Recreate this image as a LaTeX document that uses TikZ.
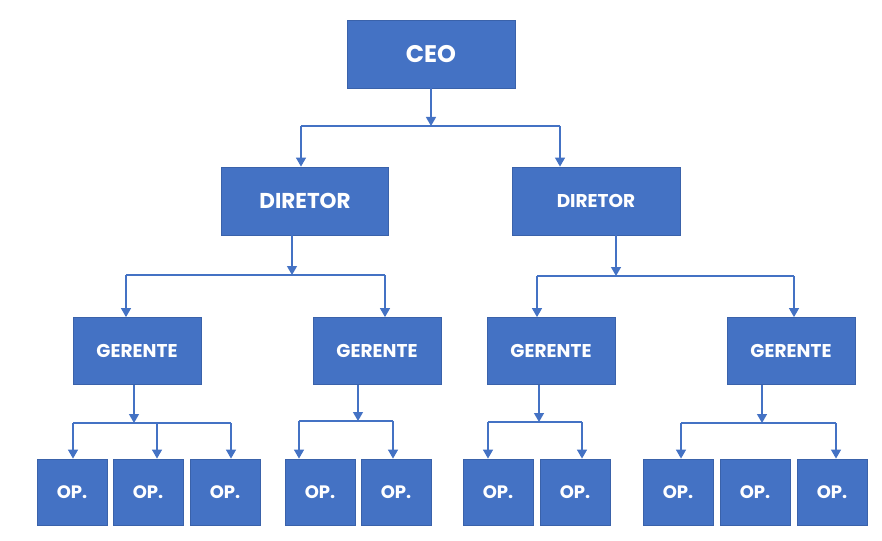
\documentclass[tikz,border=0pt]{standalone}
\usepackage{fontspec}
\setmainfont{Poppins}
\usetikzlibrary{arrows.meta}

\definecolor{azul}{HTML}{4472C4}
\definecolor{azulborda}{HTML}{3A62AA}

\tikzset{
  caixa/.style={draw=azulborda, fill=azul, line width=0.8pt, text=white,
    font=\bfseries, inner sep=0pt, anchor=center},
  linha/.style={draw=azul, line width=1.3pt},
  seta/.style={linha, -{Triangle[width=10pt,length=9pt]}}
}

\begin{document}
\begin{tikzpicture}[x=1pt, y=-1pt]

\useasboundingbox (0,0) rectangle (882,540);

% Nivel 1
\node[caixa, minimum width=168pt, minimum height=68pt, font=\bfseries\fontsize{24}{24}\selectfont] (ceo) at (431,54) {CEO};

% Nivel 2
\node[caixa, minimum width=167pt, minimum height=68pt, font=\bfseries\fontsize{21.5}{21.5}\selectfont] (dirL) at (305,201) {DIRETOR};
\node[caixa, minimum width=168pt, minimum height=68pt, font=\bfseries\fontsize{18.5}{18.5}\selectfont] (dirR) at (596,201) {DIRETOR};

% Nivel 3
\node[caixa, minimum width=128pt, minimum height=67pt, font=\bfseries\fontsize{18.5}{18.5}\selectfont] (gerA) at (137,351) {GERENTE};
\node[caixa, minimum width=128pt, minimum height=67pt, font=\bfseries\fontsize{18.5}{18.5}\selectfont] (gerB) at (377,351) {GERENTE};
\node[caixa, minimum width=128pt, minimum height=67pt, font=\bfseries\fontsize{18.5}{18.5}\selectfont] (gerC) at (551,351) {GERENTE};
\node[caixa, minimum width=128pt, minimum height=67pt, font=\bfseries\fontsize{18.5}{18.5}\selectfont] (gerD) at (791,351) {GERENTE};

% Nivel 4
\foreach \nome/\x in {opA1/72, opA2/148, opA3/225, opB1/320, opB2/396, opC1/498, opC2/575, opD1/678, opD2/755, opD3/832}
  \node[caixa, minimum width=70pt, minimum height=66pt, font=\bfseries\fontsize{18}{18}\selectfont] (\nome) at (\x,492) {OP.};

% CEO -> diretores
\coordinate (jCeo) at (431,126);
\coordinate (jCeoL) at (301,126);
\coordinate (jCeoR) at (560,126);
\draw[seta] (ceo.south) -- (jCeo);
\draw[linha] (jCeoL) -- (jCeoR);
\draw[seta] (jCeoL) -- (jCeoL |- dirL.north);
\draw[seta] (jCeoR) -- (jCeoR |- dirR.north);

% Diretor esquerdo -> gerentes
\coordinate (jDirL) at (292,275);
\coordinate (jDirLa) at (126,275);
\coordinate (jDirLb) at (385,275);
\draw[seta] (jDirL |- dirL.south) -- (jDirL);
\draw[linha] (jDirLa) -- (jDirLb);
\draw[seta] (jDirLa) -- (jDirLa |- gerA.north);
\draw[seta] (jDirLb) -- (jDirLb |- gerB.north);

% Diretor direito -> gerentes
\coordinate (jDirR) at (616,276);
\coordinate (jDirRa) at (537,276);
\coordinate (jDirRb) at (794,276);
\draw[seta] (jDirR |- dirR.south) -- (jDirR);
\draw[linha] (jDirRa) -- (jDirRb);
\draw[seta] (jDirRa) -- (jDirRa |- gerC.north);
\draw[seta] (jDirRb) -- (jDirRb |- gerD.north);

% Gerente A -> operadores
\coordinate (jGerA) at (134,423);
\coordinate (jGerAa) at (73,423);
\coordinate (jGerAb) at (157,423);
\coordinate (jGerAc) at (231,423);
\draw[seta] (jGerA |- gerA.south) -- (jGerA);
\draw[linha] (jGerAa) -- (jGerAc);
\draw[seta] (jGerAa) -- (jGerAa |- opA1.north);
\draw[seta] (jGerAb) -- (jGerAb |- opA2.north);
\draw[seta] (jGerAc) -- (jGerAc |- opA3.north);

% Gerente B -> operadores
\coordinate (jGerB) at (358,421);
\coordinate (jGerBa) at (299,421);
\coordinate (jGerBb) at (393,421);
\draw[seta] (jGerB |- gerB.south) -- (jGerB);
\draw[linha] (jGerBa) -- (jGerBb);
\draw[seta] (jGerBa) -- (jGerBa |- opB1.north);
\draw[seta] (jGerBb) -- (jGerBb |- opB2.north);

% Gerente C -> operadores
\coordinate (jGerC) at (539,422);
\coordinate (jGerCa) at (488,422);
\coordinate (jGerCb) at (582,422);
\draw[seta] (jGerC |- gerC.south) -- (jGerC);
\draw[linha] (jGerCa) -- (jGerCb);
\draw[seta] (jGerCa) -- (jGerCa |- opC1.north);
\draw[seta] (jGerCb) -- (jGerCb |- opC2.north);

% Gerente D -> operadores
\coordinate (jGerD) at (762,423);
\coordinate (jGerDa) at (681,423);
\coordinate (jGerDb) at (836,423);
\draw[seta] (jGerD |- gerD.south) -- (jGerD);
\draw[linha] (jGerDa) -- (jGerDb);
\draw[seta] (jGerDa) -- (jGerDa |- opD1.north);
\draw[seta] (jGerDb) -- (jGerDb |- opD3.north);

\end{tikzpicture}
\end{document}
